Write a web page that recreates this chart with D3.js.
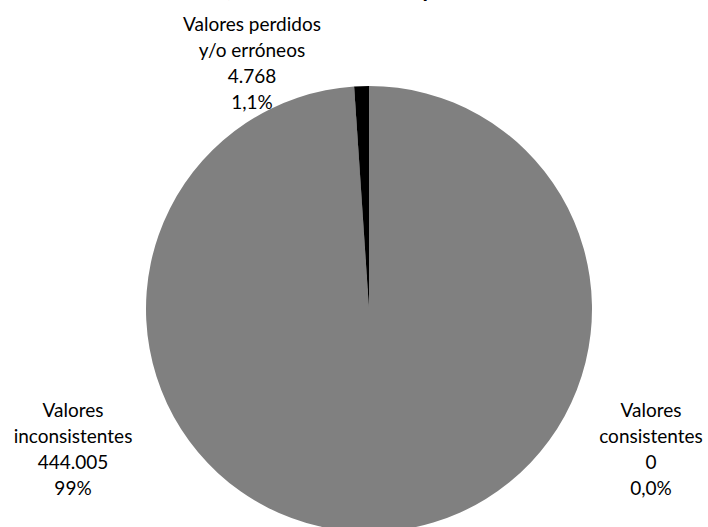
<!DOCTYPE html>
<html>
<head>
<meta charset="utf-8">
<script src="https://cdn.jsdelivr.net/npm/d3@7"></script>
<style>
  body { margin: 0; background: #fff; }
  text { font-family: Lato, "Open Sans", sans-serif; }
</style>
</head>
<body>
<div id="chart"></div>
<script>
// data
const categories = ["Valores consistentes", "Valores inconsistentes", "Valores perdidos y/o erróneos"];
const values = [0, 444005, 4768];
const valueLabels = ["0", "444.005", "4.768"];
const percentLabels = ["0,0%", "99%", "1,1%"];
const labelLines = [["Valores", "consistentes"], ["Valores", "inconsistentes"], ["Valores perdidos", "y/o erróneos"]];
const colors = ["#bfbfbf", "#808080", "#000000"];
const title = "Variable edad, total de la comuna por sexo";

const width = 708, height = 527;
const cx = 369, cy = 309, radius = 223;
const lineH = 26;
// label anchor (centre x, first baseline y)
const labelPos = [[651, 417], [73, 417], [252, 31]];

const svg = d3.select("#chart").append("svg")
  .attr("width", width)
  .attr("height", height);

// title, mostly above the frame (cut off in the original too)
svg.append("text")
  .attr("x", 300)
  .attr("y", -3)
  .attr("text-anchor", "middle")
  .attr("font-size", 22)
  .attr("font-weight", "bold")
  .text(title);

const pie = d3.pie().sort(null).value(d => d);
const arc = d3.arc().innerRadius(0).outerRadius(radius);

const g = svg.append("g").attr("transform", `translate(${cx},${cy})`);
g.selectAll("path")
  .data(pie(values))
  .join("path")
  .attr("d", arc)
  .attr("fill", (d, i) => colors[i]);

categories.forEach((c, i) => {
  const lines = labelLines[i].concat([valueLabels[i], percentLabels[i]]);
  const t = svg.append("text")
    .attr("text-anchor", "middle")
    .attr("font-size", 19)
    .attr("fill", "#000");
  lines.forEach((l, j) => {
    t.append("tspan")
      .attr("x", labelPos[i][0])
      .attr("y", labelPos[i][1] + j * lineH)
      .text(l);
  });
});
</script>
</body>
</html>
